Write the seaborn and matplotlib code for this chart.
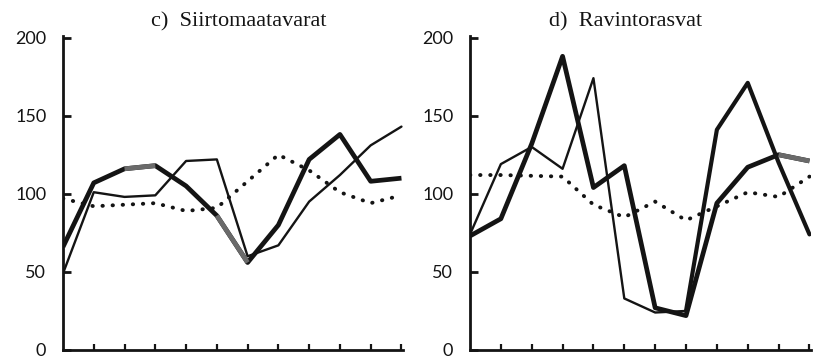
import matplotlib
matplotlib.use("Agg")
import matplotlib.pyplot as plt
import seaborn as sns
import pandas as pd

months = list(range(12))

# c) Siirtomaatavarat
c_thick = [66, 107, 116, 118, 105, 86, 56, 80, 122, 138, 108, 110]
c_thin = [49, 101, 98, 99, 121, 122, 60, 67, 95, 112, 131, 143]
c_dotted = [97, 92, 93, 94, 89, 91, 108, 125, 115, 101, 94, 99]

# d) Ravintorasvat
d_thick = [73, 84, 132, 188, 104, 118, 27, 22, 94, 117, 125, 121]
d_thin = [74, 119, 130, 116, 174, 33, 24, 25, 141, 171, 120, 74]
d_dotted = [112, 112, 111.5, 111, 93, 85, 95, 83, 92, 101, 98, 111]

titles = ["c)  Siirtomaatavarat", "d)  Ravintorasvat"]
yticks = [0, 50, 100, 150, 200]

# gray (print) segments on thick line: index ranges
c_gray = [(2, 3), (5, 6)]
d_gray = [(10, 11)]
# index from which the thin line is printed heavier (None = never)
c_heavy_from = None
d_heavy_from = 7

sns.set_theme(style="white")
plt.rcParams["font.family"] = ["Lato", "DejaVu Sans"]

fig = plt.figure(figsize=(8.22, 3.62), dpi=100)
W, H = 822, 362

def make_ax(left_px, right_px):
    top_px, bot_px = 36, 350
    return fig.add_axes([left_px / W, 1 - bot_px / H,
                         (right_px - left_px) / W, (bot_px - top_px) / H])

axes = [make_ax(63, 403), make_ax(470, 811)]
panels = [
    (c_thick, c_thin, c_dotted, c_gray, c_heavy_from, 0.516),
    (d_thick, d_thin, d_dotted, d_gray, d_heavy_from, 0.455),
]

ink = "#141414"
THICK, THIN = 3.4, 1.7
for ax, (thick, thin, dotted, grays, heavy, tx), title in zip(axes, panels, titles):
    df = pd.DataFrame({"m": months, "thick": thick, "thin": thin, "dotted": dotted})
    sns.lineplot(data=df, x="m", y="dotted", ax=ax, color=ink, lw=2.8,
                 linestyle=(0, (0.1, 2.5)), dash_capstyle="round")
    if heavy is None:
        sns.lineplot(data=df, x="m", y="thin", ax=ax, color=ink, lw=THIN)
    else:
        sns.lineplot(data=df.iloc[:heavy + 1], x="m", y="thin", ax=ax,
                     color=ink, lw=THIN)
        sns.lineplot(data=df.iloc[heavy:], x="m", y="thin", ax=ax,
                     color=ink, lw=THICK - 0.4, solid_joinstyle="round")
    sns.lineplot(data=df, x="m", y="thick", ax=ax, color=ink, lw=THICK,
                 solid_joinstyle="round", solid_capstyle="butt")
    for a, b in grays:
        sub = df.iloc[a:b + 1]
        sns.lineplot(data=sub, x="m", y="thick", ax=ax, color="#6a6a6a",
                     lw=THICK, solid_capstyle="butt")

    ax.set_xlim(0, 11.05)
    ax.set_ylim(0, 201)
    ax.set_xticks(range(1, 12))
    ax.set_xticklabels([])
    ax.set_yticks(yticks)
    ax.set_yticklabels([str(v) for v in yticks], fontsize=13, color=ink)
    ax.set_xlabel("")
    ax.set_ylabel("")
    for s in ["top", "right"]:
        ax.spines[s].set_visible(False)
    for s in ["left", "bottom"]:
        ax.spines[s].set_color(ink)
        ax.spines[s].set_linewidth(2.0)
    ax.tick_params(axis="y", direction="in", length=6, width=2.0, color=ink,
                   pad=12, left=True)
    ax.tick_params(axis="x", direction="in", length=4, width=1.6, color=ink,
                   bottom=True)
    ax.set_title(title, x=tx, pad=7, fontsize=16, color=ink,
                 family=["Liberation Serif", "DejaVu Serif"])
    ax.grid(False)

fig.savefig("out.png", dpi=100)
